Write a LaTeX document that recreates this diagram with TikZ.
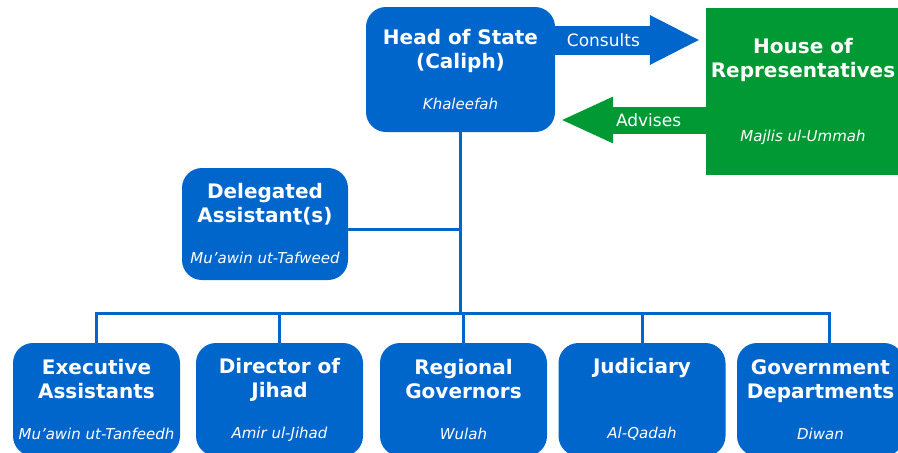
\documentclass[tikz,border=0pt]{standalone}
\usepackage{fontspec}
\setmainfont{DejaVu Sans}
\usetikzlibrary{arrows.meta}

\definecolor{stateblue}{RGB}{0,102,204}
\definecolor{ummahgreen}{RGB}{0,153,51}

\newcommand\titlefont{\bfseries\fontsize{20}{24}\selectfont}
\newcommand\subfont{\mdseries\itshape\fontsize{15}{18}\selectfont}
\newcommand\tagfont{\mdseries\upshape\fontsize{17}{20}\selectfont}

\begin{document}
\begin{tikzpicture}
	[x=1pt, y=-1pt,
		office/.style		={rectangle
									, rounded corners=20pt
									, fill=stateblue
									, text=white
									, font=\titlefont
									, align=center
									, inner sep=0pt
									, minimum width=167pt
									, minimum height=113pt
									},
		assembly/.style	={rectangle
									, fill=ummahgreen
									, text=white
									, font=\titlefont
									, align=center
									, inner sep=0pt
									, minimum width=194pt
									, minimum height=167pt
									},
		link/.style			={draw=stateblue
									, line width=3pt
									},
		consult/.style		={draw=stateblue
									, line width=29pt
									, -{Triangle[length=49pt, width=50pt, line width=0pt]}
									, shorten >=7pt
									},
		advise/.style		={draw=ummahgreen
									, line width=27pt
									, -{Triangle[length=51pt, width=47pt, line width=0pt]}
									, shorten >=7pt
									},
		tag/.style			={text=white
									, font=\tagfont
									}
	]
\useasboundingbox (0,0) rectangle (898,453);
\clip (0,0) rectangle (898,453);

% top row
\node [office, minimum width=189pt, minimum height=125pt] (caliph) at (460.5,69.5)
	{Head of State\\(Caliph)\\[17pt]{\subfont Khaleefah}};
\node [assembly] (ummah) at (803,91.5)
	{House of\\Representatives\\[40pt]{\subfont Majlis ul-Ummah}};

% delegation
\node [office, minimum width=166pt, minimum height=112pt] (tafweed) at (265,224)
	{Delegated\\Assistant(s)\\[17pt]{\subfont Mu'awin ut-Tafweed}};

% bottom row
\node [office] (tanfeedh)	at (96.5,399.5)	{Executive\\Assistants\\[17pt]{\subfont Mu'awin ut-Tanfeedh}};
\node [office] (jihad)		at (279.5,399.5)	{Director of\\Jihad\\[17pt]{\subfont Amir ul-Jihad}};
\node [office] (wulah)		at (463.5,399.5)	{Regional\\Governors\\[17pt]{\subfont Wulah}};
\node [office] (qadah)		at (642,399.5)		{Judiciary\\\mbox{}\\[17pt]{\subfont Al-Qadah}};
\node [office] (diwan)		at (820.5,399.5)	{Government\\Departments\\[17pt]{\subfont Diwan}};

\coordinate (bus) at (461,313);

% chain of command
\draw [link] (caliph.south) -- (caliph.south |- bus);
\draw [link] ([yshift=-5pt]tafweed.east) -- ([yshift=-5pt]tafweed.east -| caliph.south);
\draw [link] (tanfeedh.north) |- (bus) -| ([xshift=9pt]diwan.north);
\foreach \office in {jihad, wulah, qadah}
	\draw [link] (\office.north) -- (\office.north |- bus);

% consultation
\draw [consult] ([yshift=29.5pt]caliph.east) -- ([yshift=29.5pt]caliph.east -| ummah.west)
	node [tag, pos=0.32] (consults) {Consults};
\draw [advise] ([yshift=-28.5pt]ummah.west) -- ([yshift=-28.5pt]ummah.west -| caliph.east)
	node [tag, pos=0.38] (advises) {Advises};
\end{tikzpicture}
\end{document}
